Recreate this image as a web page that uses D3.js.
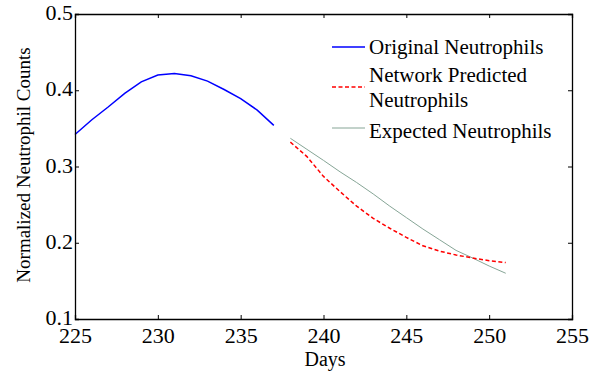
<!DOCTYPE html>
<html><head><meta charset="utf-8">
<script src="https://cdn.jsdelivr.net/npm/d3@7"></script>
<style>body{margin:0;background:#fff}svg{display:block}</style>
</head><body>
<svg id="c" width="603" height="371"></svg>
<script>
const origDays = [225,226,227,228,229,230,231,232,233,234,235,236,237];
const origVals = [0.342,0.361,0.378,0.396,0.411,0.420,0.422,0.419,0.412,0.401,0.389,0.374,0.354];
const predDays = [238,239,240,241,242,243,244,245,246,247,248,249,250,251];
const predVals = [0.332,0.313,0.287,0.267,0.248,0.232,0.219,0.207,0.196,0.189,0.184,0.180,0.1765,0.174];
const expVals  = [0.337,0.3225,0.308,0.293,0.279,0.264,0.248,0.233,0.218,0.204,0.190,0.180,0.1695,0.160];
const xTicks = [225,230,235,240,245,250,255];
const yTicks = [0.1,0.2,0.3,0.4,0.5];
const legendLabels = [["Original Neutrophils"],["Network Predicted","Neutrophils"],["Expected Neutrophils"]];

const FONT = "'Liberation Serif', 'Times New Roman', Tinos, 'DejaVu Serif', serif";
const svg = d3.select("#c");
const L=75,R=572,T=14,B=319;
const x = d3.scaleLinear().domain([225,255]).range([L,R]);
const y = d3.scaleLinear().domain([0.1,0.5]).range([B,T]);

const line = d3.line().x(d=>x(d[0])).y(d=>y(d[1]));
svg.append("path").datum(origDays.map((d,i)=>[d,origVals[i]])).attr("d",line)
  .attr("fill","none").attr("stroke","#0000ff").attr("stroke-width",1.5);
svg.append("path").datum(predDays.map((d,i)=>[d,expVals[i]])).attr("d",line)
  .attr("fill","none").attr("stroke","#86a596").attr("stroke-width",1);
svg.append("path").datum(predDays.map((d,i)=>[d,predVals[i]])).attr("d",line)
  .attr("fill","none").attr("stroke","#ff0000").attr("stroke-width",1.5).attr("stroke-dasharray","4,2.5");

const bx = svg.append("g").attr("transform",`translate(0,${B})`).call(d3.axisBottom(x).tickValues(xTicks).tickSize(-4).tickPadding(12).tickFormat(d3.format("d")));
const tx = svg.append("g").attr("transform",`translate(0,${T})`).call(d3.axisTop(x).tickValues(xTicks).tickSize(-4).tickFormat(""));
const ly = svg.append("g").attr("transform",`translate(${L},0)`).call(d3.axisLeft(y).tickValues(yTicks).tickSize(-4).tickPadding(2).tickFormat(d3.format(".1f")));
const ry = svg.append("g").attr("transform",`translate(${R},0)`).call(d3.axisRight(y).tickValues(yTicks).tickSize(-4).tickFormat(""));
[bx,tx,ly,ry].forEach(g=>{g.attr("font-family",null);g.select(".domain").attr("stroke","#000").attr("stroke-width",1.3);g.selectAll(".tick line").attr("stroke","#000");});
bx.selectAll("text").attr("font-size",22).style("font-family",FONT).attr("dy","0.55em").attr("fill","#000");
ly.selectAll("text").attr("font-size",22).style("font-family",FONT).attr("fill","#000").attr("dy","0.25em");

svg.append("text").attr("x",325).attr("y",366).attr("text-anchor","middle").attr("font-size",20).style("font-family",FONT).text("Days");
svg.append("text").attr("transform","translate(30,165) rotate(-90)").attr("text-anchor","middle").attr("font-size",19).style("font-family",FONT).text("Normalized Neutrophil Counts");

const lg = svg.append("g");
const rows = [{c:"#0000ff",dash:null,w:1.5,ly:47,ty:[47]},{c:"#ff0000",dash:"4,2.5",w:1.5,ly:87,ty:[75,100]},{c:"#86a596",dash:null,w:1,ly:128,ty:[131]}];
rows.forEach((r,i)=>{
  lg.append("line").attr("x1",332).attr("x2",365).attr("y1",r.ly).attr("y2",r.ly).attr("stroke",r.c).attr("stroke-width",r.w).attr("stroke-dasharray",r.dash);
  legendLabels[i].forEach((t,j)=>lg.append("text").attr("x",369).attr("y",r.ty[j]).attr("dy","0.35em").attr("font-size",21).style("font-family",FONT).text(t));
});
</script></body></html>
